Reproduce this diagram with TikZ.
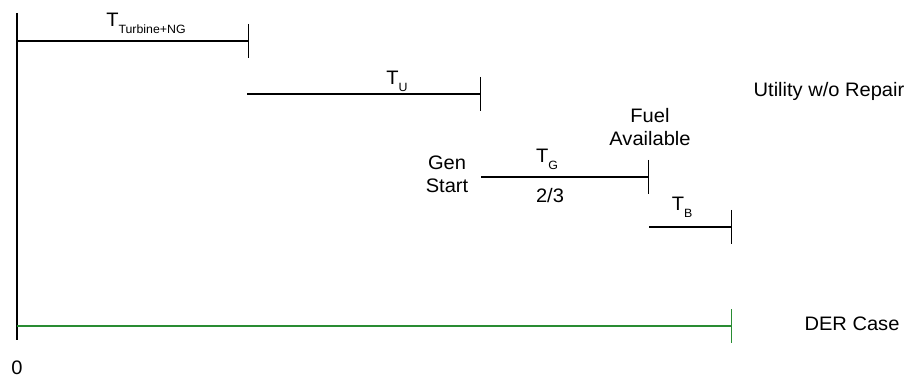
\documentclass[tikz,border=0pt]{standalone}
\usepackage{fontspec}
\setmainfont{Liberation Sans}[FakeStretch=1.03]
\usetikzlibrary{arrows.meta}
\definecolor{dergreen}{rgb}{0.16,0.55,0.2}
\newcommand{\Tsub}[1]{T\raisebox{-7pt}{\fontsize{12}{12}\selectfont #1}}

\begin{document}
\begin{tikzpicture}[x=1pt,y=-1pt,
    lbl/.style={font=\fontsize{19.5}{23}\selectfont, inner sep=0pt, align=center},
    seg/.style={line width=1.3pt, -{Bar[width=34pt,line width=1.3pt]}}]
            \useasboundingbox (0,0) rectangle (909,379);

            % time axis
            \coordinate (top) at (17,13);
            \coordinate (bot) at (17,340);
            \draw[line width=1.3pt] (top) -- (bot);

            % interval end points
            \coordinate (s1) at (17,41);   \coordinate (e1) at (249,41);
            \coordinate (s2) at (247,94);  \coordinate (e2) at (481,94);
            \coordinate (s3) at (481,177); \coordinate (e3) at (649,177);
            \coordinate (s4) at (649,227); \coordinate (e4) at (732,227);
            \coordinate (s5) at (17,326);  \coordinate (e5) at (732,326);

            \draw[seg] (s1) -- (e1);
            \draw[seg] (s2) -- (e2);
            \draw[seg] (s3) -- (e3);
            \draw[seg] (s4) -- (e4);
            \draw[seg, dergreen] (s5) -- (e5);

            % labels
            \node[lbl, anchor=base] (tng) at (146,27) {\Tsub{Turbine+NG}};
            \node[lbl, anchor=base] (tu) at (397,85) {\Tsub{U}};
            \node[lbl, anchor=base] (tg) at (547,163) {\Tsub{G}};
            \node[lbl, anchor=base] (tb) at (682,211) {\Tsub{B}};
            \node[lbl, anchor=base] (frac) at (550,203) {2/3};
            \node[lbl] (gen) at (447,174) {Gen\\Start};
            \node[lbl] (fuel) at (650,127) {Fuel\\Available};
            \node[lbl] (util) at (829,91) {Utility w/o Repair};
            \node[lbl] (der) at (852,324) {DER Case};
            \node[lbl] (zero) at (17,368) {0};
\end{tikzpicture}
\end{document}
